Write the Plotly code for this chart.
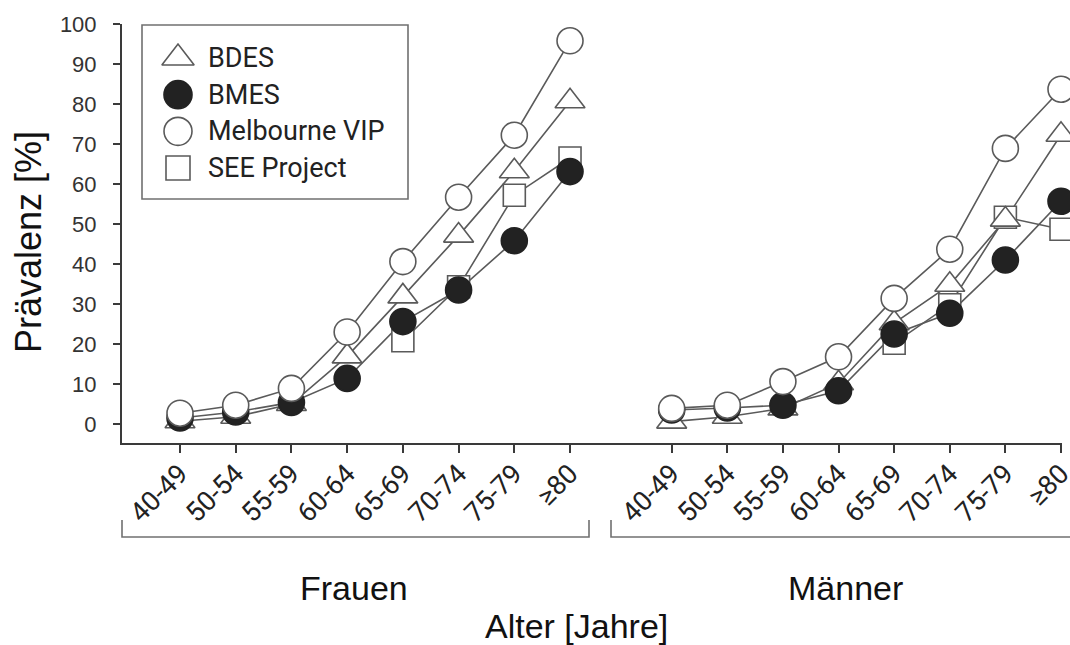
import plotly.graph_objects as go

# ---------------- data ----------------
age_groups = ["40-49", "50-54", "55-59", "60-64", "65-69", "70-74", "75-79", "≥80"]
series_names = ["BDES", "BMES", "Melbourne VIP", "SEE Project"]

# Frauen (women)
bdes_f = [0.7, 1.8, 5.0, 16.9, 31.9, 47.1, 63.2, 80.7]
bmes_f = [1.5, 3.0, 5.4, 11.4, 25.6, 33.5, 45.8, 63.1]
mvip_f = [2.7, 4.7, 8.9, 23.0, 40.6, 56.7, 72.2, 95.8]
see_f = [None, None, None, None, 20.8, 34.3, 57.2, 66.5]

# Männer (men)
bdes_m = [0.6, 1.8, 3.9, 10.2, 25.2, 34.8, 51.1, 72.3]
bmes_m = [3.5, 4.0, 4.7, 8.3, 22.5, 27.7, 41.0, 55.7]
mvip_m = [3.9, 4.7, 10.6, 16.8, 31.4, 43.7, 68.9, 83.7]
see_m = [None, None, None, None, 20.2, 29.8, 51.7, 48.7]

y_ticks = [0, 10, 20, 30, 40, 50, 60, 70, 80, 90, 100]

# ---------------- styles ----------------
W, H = 1070, 645
ML, MR, MT, MB = 122, 8, 24, 202
PW, PH = W - ML - MR, H - MT - MB

def px_x(px):
    return (px - ML) / PW

def px_y(py):
    return (H - MB - py) / PH

LINE_C = "#5a5a5a"
AXIS_C = "#3a3a3a"
BLACK = "#222222"

styles = {
    "BDES": dict(symbol="triangle-up", size=26, color="white"),
    "BMES": dict(symbol="circle", size=26, color=BLACK),
    "Melbourne VIP": dict(symbol="circle", size=26, color="white"),
    "SEE Project": dict(symbol="square", size=22, color="white"),
}

women = {"BDES": bdes_f, "BMES": bmes_f, "Melbourne VIP": mvip_f, "SEE Project": see_f}
men = {"BDES": bdes_m, "BMES": bmes_m, "Melbourne VIP": mvip_m, "SEE Project": see_m}

draw_order = ["SEE Project", "BDES", "BMES", "Melbourne VIP"]

fig = go.Figure()

panels = [(women, "x", "y"), (men, "x2", "y2")]

# lines first (beneath all markers)
for data, xa, ya in panels:
    for name in draw_order:
        fig.add_trace(go.Scatter(
            x=age_groups, y=data[name], xaxis=xa, yaxis=ya, mode="lines",
            line=dict(color=LINE_C, width=1.6), connectgaps=False,
            showlegend=False, hoverinfo="skip", cliponaxis=False))

# markers
for data, xa, ya in panels:
    for name in draw_order:
        st = styles[name]
        fig.add_trace(go.Scatter(
            x=age_groups, y=data[name], xaxis=xa, yaxis=ya, mode="markers",
            marker=dict(symbol=st["symbol"], size=st["size"], color=st["color"],
                        line=dict(color=LINE_C if st["color"] == "white" else BLACK, width=1.6)),
            name=name, showlegend=False, cliponaxis=False))

# manual legend (large symbols)
for i, name in enumerate(series_names):
    st = styles[name]
    fig.add_trace(go.Scatter(
        x=[0], y=[i], xaxis="x3", yaxis="y3", mode="markers",
        marker=dict(symbol=st["symbol"], size=st["size"] + 2, color=st["color"],
                    line=dict(color=LINE_C if st["color"] == "white" else BLACK, width=1.6)),
        showlegend=False, hoverinfo="skip", cliponaxis=False))

split = px_x(600)
tickfont_x = dict(family="Roboto, Liberation Sans Narrow, Arial", size=27, color="#222")
xcommon = dict(type="category", categoryorder="array", categoryarray=age_groups,
               showline=True, linecolor=AXIS_C, linewidth=2, ticks="outside",
               ticklen=8, tickwidth=2, tickcolor=AXIS_C, tickangle=-45,
               ticklabelstandoff=-6, automargin=False,
               tickfont=tickfont_x, showgrid=False, zeroline=False, fixedrange=True)

annotations = [
    dict(text="Prävalenz [%]", xref="paper", yref="paper", x=px_x(29), y=px_y(242),
         textangle=-90, showarrow=False, xanchor="center", yanchor="middle",
         font=dict(family="Liberation Sans, Arial", size=36, color="#111")),
    dict(text="Frauen", xref="paper", yref="paper", x=px_x(354), y=px_y(588),
         showarrow=False, xanchor="center", yanchor="middle",
         font=dict(family="Liberation Sans, Arial", size=34, color="#111")),
    dict(text="Männer", xref="paper", yref="paper", x=px_x(845), y=px_y(588),
         showarrow=False, xanchor="center", yanchor="middle",
         font=dict(family="Liberation Sans, Arial", size=34, color="#111")),
    dict(text="Alter [Jahre]", xref="paper", yref="paper", x=px_x(576), y=px_y(626),
         showarrow=False, xanchor="center", yanchor="middle",
         font=dict(family="Liberation Sans, Arial", size=34, color="#111")),
]
for i, name in enumerate(series_names):
    annotations.append(dict(text=name, xref="x3", yref="y3", x=28, y=i,
                            showarrow=False, xanchor="left", yanchor="middle",
                            font=dict(family="Roboto, Arial", size=27, color="#222")))

BR = "#707070"
shapes = [
    # legend box
    dict(type="rect", xref="paper", yref="paper", x0=px_x(142), x1=px_x(408),
         y0=px_y(199), y1=px_y(25), line=dict(color=BR, width=1.6), fillcolor="rgba(0,0,0,0)"),
    # Frauen bracket
    dict(type="path", xref="paper", yref="paper",
         path=f"M {px_x(122)},{px_y(520)} L {px_x(122)},{px_y(537)} L {px_x(589)},{px_y(537)} L {px_x(589)},{px_y(520)}",
         line=dict(color=BR, width=1.6)),
    # Männer bracket
    dict(type="path", xref="paper", yref="paper",
         path=f"M {px_x(611)},{px_y(520)} L {px_x(611)},{px_y(537)} L {px_x(1078)},{px_y(537)} L {px_x(1078)},{px_y(520)}",
         line=dict(color=BR, width=1.6)),
]

hidden = dict(visible=False, fixedrange=True, automargin=False)

fig.update_layout(
    width=W, height=H, autosize=False,
    margin=dict(l=ML, r=MR, t=MT, b=MB, autoexpand=False),
    paper_bgcolor="white", plot_bgcolor="rgba(0,0,0,0)",
    showlegend=False,
    xaxis=dict(domain=[0, split], range=[-1.041, 7.538], anchor="y", **xcommon),
    xaxis2=dict(domain=[split, 1], range=[-1.289, 7.018], anchor="y2", **xcommon),
    yaxis=dict(domain=[0, 1], range=[-4.75, 100], tickvals=y_ticks, anchor="x",
               showline=True, linecolor=AXIS_C, linewidth=2, ticks="outside",
               ticklen=7, tickwidth=2, tickcolor=AXIS_C, showgrid=False, zeroline=False,
               ticklabelstandoff=12, automargin=False,
               tickfont=dict(family="Liberation Sans, Arial", size=22, color="#333"),
               fixedrange=True),
    yaxis2=dict(domain=[0, 1], range=[-4.75, 100], anchor="x2", **hidden),
    xaxis3=dict(domain=[px_x(142), px_x(408)], range=[-36, 230], anchor="y3", **hidden),
    yaxis3=dict(domain=[px_y(199), px_y(25)], range=[3.845, -0.9], anchor="x3", **hidden),
    annotations=annotations,
    shapes=shapes,
)

fig.write_html(
    "out.html",
    config={"displayModeBar": False},
    post_script="document.body.style.margin='0';document.body.style.padding='0';"
                "document.body.style.overflow='hidden';",
)
